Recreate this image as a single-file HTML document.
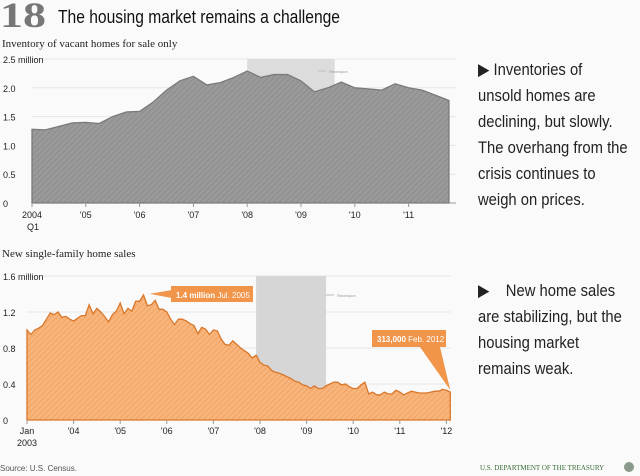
<!DOCTYPE html>
<html><head><meta charset="utf-8">
<style>
body{margin:0;background:#fafafa;width:640px;height:476px;overflow:hidden;font-family:"Liberation Sans",sans-serif;}
.side{position:absolute;left:478px;font-family:"Liberation Sans",sans-serif;font-size:17px;line-height:26px;color:#222;white-space:nowrap;transform:scaleX(0.87);transform-origin:0 0;}
</style></head><body>
<svg id="c" width="640" height="476" style="position:absolute;left:0;top:0">
<defs>
<pattern id="hg" width="4" height="4" patternUnits="userSpaceOnUse" patternTransform="rotate(45)"><rect width="4" height="4" fill="#9a9a9a"/><rect width="1" height="4" fill="#8c8c8c"/></pattern>
<pattern id="ho" width="4" height="4" patternUnits="userSpaceOnUse" patternTransform="rotate(45)"><rect width="4" height="4" fill="#f8b47a"/><rect width="1" height="4" fill="#efa565"/></pattern>
</defs>
<text x="0" y="27" font-family="Liberation Serif,serif" font-size="36" font-weight="bold" fill="#777" textLength="46" lengthAdjust="spacingAndGlyphs">18</text>
<text x="58" y="23" font-family="Liberation Sans,sans-serif" font-size="18" fill="#111" textLength="282" lengthAdjust="spacingAndGlyphs">The housing market remains a challenge</text>
<text x="2" y="47" font-family="Liberation Serif,serif" font-size="11" fill="#222">Inventory of vacant homes for sale only</text>
<text x="2" y="257" font-family="Liberation Serif,serif" font-size="11" fill="#222">New single-family home sales</text>
<text x="0" y="471" font-size="8" fill="#555">Source: U.S. Census.</text>
<text x="480" y="470" font-family="Liberation Serif,serif" font-size="7" fill="#3a6e3a">U.S. DEPARTMENT OF THE TREASURY</text>
<circle cx="629" cy="467" r="5" fill="#8a9a8a"/>
</svg>
<div class="side" style="top:57px">▶ Inventories of<br>unsold homes are<br>declining, but slowly.<br>The overhang from the<br>crisis continues to<br>weigh on prices.</div>
<div class="side" style="top:278px">▶&nbsp;&nbsp;&nbsp;&nbsp;New home sales<br>are stabilizing, but the<br>housing market<br>remains weak.</div>
<script>
// Top chart data: quarterly 2004Q1-2011Q4 (millions)
const invTicks=[0,0.5,1.0,1.5,2.0,2.5];
const invTickLabels=["0","0.5","1.0","1.5","2.0","2.5 million"];
const invYears=["2004","'05","'06","'07","'08","'09","'10","'11"];
const invValues=[1.28,1.27,1.33,1.39,1.40,1.38,1.50,1.58,1.59,1.75,1.96,2.12,2.20,2.05,2.09,2.18,2.29,2.18,2.23,2.23,2.12,1.93,2.00,2.10,2.00,1.98,1.96,2.07,2.00,1.96,1.87,1.78];
const invRecession=[16,22]; // quarter indices
// Bottom chart data: monthly Jan 2003 - Feb 2012 (millions)
const salesTicks=[0,0.4,0.8,1.2,1.6];
const salesTickLabels=["0","0.4","0.8","1.2","1.6 million"];
const salesYears=["Jan","'04","'05","'06","'07","'08","'09","'10","'11","'12"];
const salesValues=[1.00,0.95,1.00,1.02,1.05,1.12,1.19,1.17,1.20,1.14,1.15,1.12,
1.10,1.13,1.16,1.16,1.28,1.18,1.24,1.20,1.15,1.09,1.17,1.21,
1.30,1.18,1.24,1.21,1.32,1.32,1.39,1.27,1.28,1.33,1.23,1.23,
1.20,1.12,1.06,1.12,1.12,1.10,1.07,1.05,0.96,1.03,1.01,0.95,
1.00,0.99,0.90,0.84,0.83,0.88,0.84,0.80,0.77,0.74,0.69,0.72,
0.64,0.61,0.60,0.55,0.53,0.52,0.50,0.48,0.46,0.43,0.42,0.39,
0.38,0.35,0.38,0.35,0.35,0.38,0.40,0.42,0.42,0.39,0.40,0.37,
0.35,0.35,0.39,0.42,0.29,0.31,0.28,0.28,0.31,0.29,0.29,0.33,
0.31,0.28,0.30,0.32,0.31,0.30,0.30,0.30,0.31,0.32,0.32,0.34,
0.33,0.31];
const salesRecession=[59,77]; // month indices

const svg=document.getElementById('c');
const NS='http://www.w3.org/2000/svg';
function mk(tag,attrs,parent){const e=document.createElementNS(NS,tag);for(const k in attrs)e.setAttribute(k,attrs[k]);(parent||svg).appendChild(e);return e;}

// ---- top chart ----
const tx=i=>32+i*13.45, ty=v=>203-v*57.6;
invTicks.forEach((t,i)=>{
 const g=mk('line',{x1:32,x2:456,y1:ty(t),y2:ty(t),stroke:i?'#e6e6e6':'#999','stroke-width':1});
 
 const l=mk('text',{x:3,y:ty(t)+4,'font-size':9,fill:'#222'});l.textContent=invTickLabels[i];
 
});
let r=mk('rect',{x:tx(invRecession[0]),y:ty(2.5),width:tx(invRecession[1]+0.5)-tx(invRecession[0]),height:ty(0)-ty(2.5),fill:'#dcdcdc'});

mk('line',{x1:318,x2:326,y1:71,y2:71,stroke:'#bbb'});
let rl=mk('text',{x:329,y:73,'font-size':4,fill:'#999'});rl.textContent='Recession';

let d='M'+tx(0)+','+ty(0);invValues.forEach((v,i)=>d+=' L'+tx(i)+','+ty(v));d+=' L'+tx(invValues.length-1)+','+ty(0)+'Z';
let a=mk('path',{d:d,fill:'url(#hg)',stroke:'#7a7a7a','stroke-width':1.3});

invYears.forEach((y,i)=>{const x=tx(i*4);
 mk('line',{x1:x,x2:x,y1:203,y2:207,stroke:'#999'});
 const l=mk('text',{x:x,y:218,'font-size':9,'text-anchor':'middle',fill:'#222'});l.textContent=y;
 });
let q=mk('text',{x:27,y:230,'font-size':9,fill:'#222'});q.textContent='Q1';


// ---- bottom chart ----
const bx=i=>27+i*46.6/12, by=v=>420-v*90;
salesTicks.forEach((t,i)=>{
 const g=mk('line',{x1:27,x2:451,y1:by(t),y2:by(t),stroke:i?'#e6e6e6':'#999','stroke-width':1});
 
 const l=mk('text',{x:3,y:by(t)+4,'font-size':9,fill:'#222'});l.textContent=salesTickLabels[i];
 
});
r=mk('rect',{x:bx(salesRecession[0]),y:by(1.6),width:bx(salesRecession[1])-bx(salesRecession[0]),height:by(0)-by(1.6),fill:'#d6d6d6'});

mk('line',{x1:326,x2:334,y1:295,y2:295,stroke:'#bbb'});
rl=mk('text',{x:337,y:297,'font-size':4,fill:'#999'});rl.textContent='Recession';

d='M'+bx(0)+','+by(0);salesValues.forEach((v,i)=>d+=' L'+bx(i)+','+by(v));d+=' L'+bx(salesValues.length-1)+','+by(0)+'Z';
a=mk('path',{d:d,fill:'url(#ho)',stroke:'#d9772a','stroke-width':1.3});

salesYears.forEach((y,i)=>{const x=bx(i*12);
 mk('line',{x1:x,x2:x,y1:420,y2:424,stroke:'#999'});
 const l=mk('text',{x:x,y:434,'font-size':9,'text-anchor':'middle',fill:'#222'});l.textContent=y;
 });
q=mk('text',{x:27,y:446,'font-size':9,'text-anchor':'middle',fill:'#222'});q.textContent='2003';


// annotations
const pk=30, px=bx(pk), py=by(salesValues[pk]);
mk('polygon',{points:`${px+6},${py-1} 172,290 172,298`,fill:'#f0954a'});
let b=mk('rect',{x:171,y:286,width:82,height:16,fill:'#f0954a'});

let t=mk('text',{x:176,y:298,'font-size':8,fill:'#fff'});t.innerHTML='<tspan font-weight="bold">1.4 million</tspan> Jul. 2005';
const li=salesValues.length-1, lx=bx(li), ly=by(salesValues[li]);
mk('polygon',{points:`${lx},${ly-2} 420,347 440,347`,fill:'#f0954a'});
b=mk('rect',{x:372,y:330,width:74,height:17,fill:'#f0954a'});

t=mk('text',{x:377,y:342,'font-size':8,fill:'#fff'});t.innerHTML='<tspan font-weight="bold">313,000</tspan> Feb. 2012';
</script>
</body></html>
